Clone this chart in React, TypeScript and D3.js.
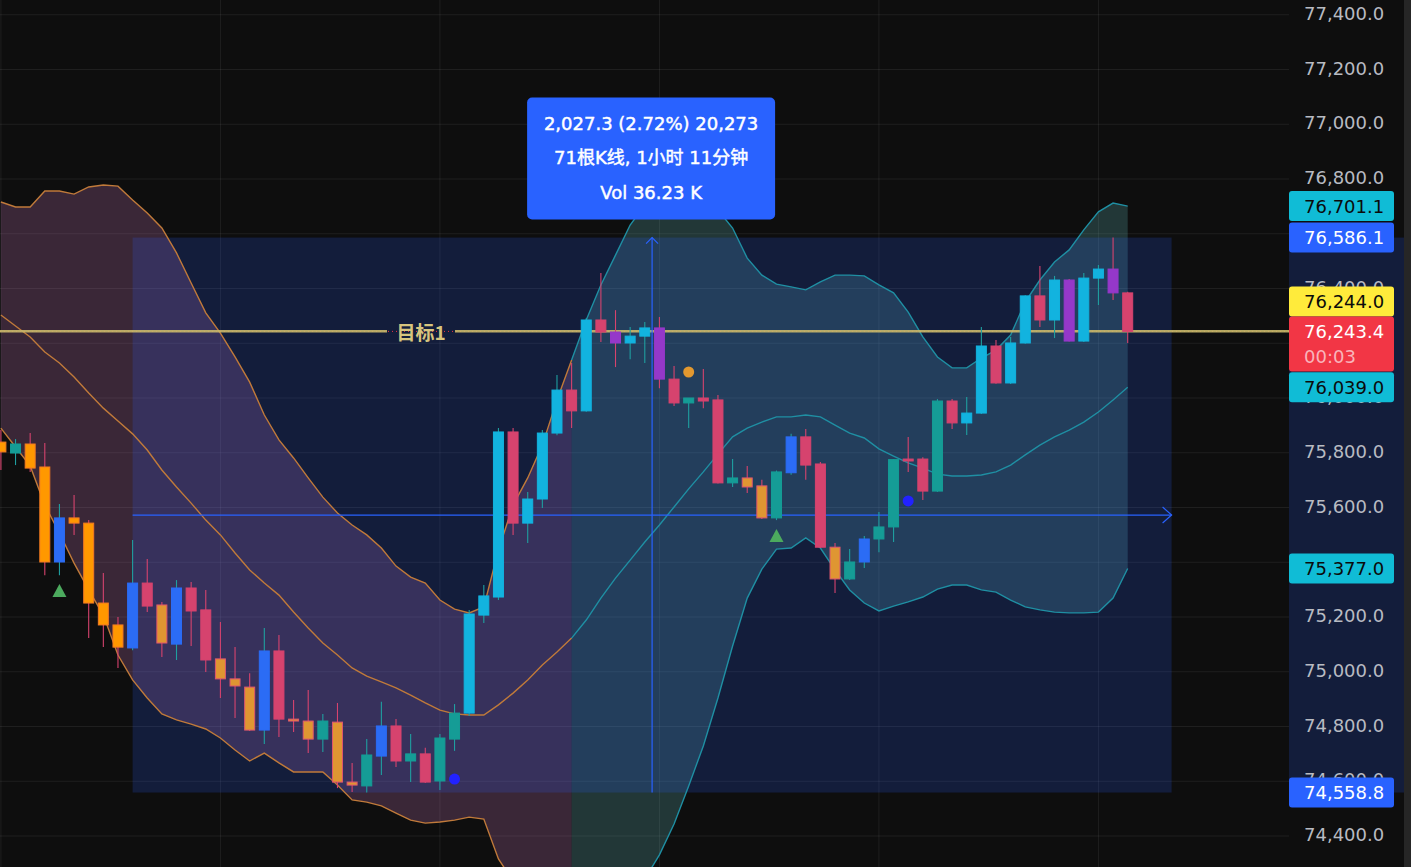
import React from 'react';
import * as d3 from 'd3';

// ---------- DATA ----------
const opens = [75839, 75799, 75832, 75748, 75401, 75562, 75543, 75251, 75171, 75087, 75324, 75244, 75101, 75306, 75226, 75047, 74974, 74944, 74787, 75076, 74827, 74820, 74754, 74816, 74597, 74583, 74692, 74802, 74674, 74700, 74601, 74754, 74849, 75207, 75273, 75876, 75543, 75631, 75872, 76029, 75953, 76285, 76241, 76201, 76226, 76256, 76069, 75982, 76000, 75993, 75690, 75708, 75679, 75562, 75727, 75858, 75759, 75455, 75339, 75401, 75485, 75529, 75777, 75777, 75660, 75989, 75909, 75945, 76190, 76055, 76201, 76373, 76285, 76431, 76208, 76438, 76471, 76384];
const highs = [75883, 75850, 75872, 75836, 75613, 75646, 75554, 75361, 75200, 75481, 75412, 75255, 75335, 75328, 75299, 75182, 75090, 74995, 75160, 75134, 74897, 74933, 74846, 74886, 74667, 74754, 74890, 74827, 74773, 74722, 74773, 74882, 75226, 75317, 75890, 75890, 75657, 75883, 76084, 76128, 76292, 76457, 76321, 76259, 76278, 76296, 76117, 76000, 76106, 76011, 75777, 75752, 75701, 75735, 75869, 75887, 75766, 75470, 75448, 75496, 75584, 75777, 75858, 75784, 75996, 75996, 76004, 76259, 76212, 76223, 76375, 76482, 76446, 76435, 76457, 76486, 76586.1, 76388];
const lows = [75737, 75755, 75730, 75353, 75353, 75500, 75123, 75090, 75014, 75079, 75218, 75054, 75043, 75094, 74999, 74904, 74831, 74784, 74736, 74762, 74780, 74703, 74707, 74575, 74561, 74558.8, 74623, 74652, 74597, 74594, 74568, 74711, 74838, 75178, 75262, 75500, 75470, 75598, 75864, 75890, 75950, 76205, 76113, 76142, 76128, 76036, 75971, 75890, 75963, 75688, 75675, 75653, 75558, 75554, 75720, 75701, 75452, 75288, 75335, 75379, 75437, 75474, 75730, 75627, 75657, 75887, 75865, 75942, 76052, 76051, 76198, 76259, 76219, 76206, 76205, 76340, 76358, 76201];
const closes = [75803, 75832, 75744, 75401, 75562, 75543, 75251, 75171, 75090, 75324, 75240, 75105, 75306, 75222, 75043, 74974, 74948, 74787, 75076, 74827, 74820, 74754, 74820, 74597, 74586, 74696, 74802, 74674, 74700, 74597, 74758, 74849, 75211, 75277, 75876, 75543, 75631, 75872, 76029, 75953, 76285, 76241, 76201, 76226, 76256, 76069, 75982, 76000, 75989, 75690, 75708, 75675, 75562, 75730, 75858, 75755, 75455, 75339, 75401, 75485, 75529, 75775, 75770, 75660, 75989, 75909, 75945, 76190, 76055, 76201, 76373, 76285, 76431, 76208, 76438, 76471, 76384, 76243.4];
// candle colour category: O bright orange, a amber, p pink, b blue, t teal, c cyan, v purple
const kinds = ['O', 't', 'O', 'O', 'b', 'O', 'O', 'O', 'O', 'b', 'p', 'a', 'b', 'p', 'p', 'a', 'a', 'a', 'b', 'p', 'a', 'a', 't', 'a', 'a', 't', 'b', 'p', 't', 'p', 't', 't', 'c', 'c', 'c', 'p', 'c', 'c', 'c', 'p', 'c', 'p', 'v', 'c', 'c', 'v', 'p', 't', 'p', 'p', 't', 'a', 'a', 't', 'b', 'p', 'p', 'a', 't', 'b', 't', 't', 'p', 'p', 't', 'p', 'c', 'c', 'p', 'c', 'c', 'p', 'c', 'v', 'c', 'c', 'v', 'p'];

const bbUpper = [76716, 76698, 76698, 76756, 76756, 76745, 76771, 76778, 76774, 76723, 76676, 76621, 76530, 76420, 76311, 76237, 76150, 76058, 75938, 75847, 75781, 75708, 75638, 75580, 75536, 75500, 75452, 75386, 75346, 75324, 75262, 75229, 75215, 75237, 75445, 75609, 75708, 75828, 75993, 76139, 76285, 76413, 76522, 76632, 76705, 76742, 76760, 76753, 76731, 76687, 76621, 76511, 76449, 76416, 76406, 76395, 76424, 76449, 76449, 76446, 76413, 76384, 76314, 76223, 76150, 76110, 76110, 76146, 76175, 76230, 76351, 76431, 76497, 76541, 76614, 76680, 76712, 76701.1];
const bbMiddle = [76303, 76263, 76223, 76168, 76128, 76077, 76018, 75963, 75916, 75869, 75810, 75737, 75675, 75616, 75554, 75500, 75434, 75372, 75324, 75280, 75218, 75160, 75105, 75061, 75014, 74984, 74963, 74941, 74915, 74886, 74860, 74846, 74842, 74842, 74879, 74922, 74970, 75025, 75072, 75123, 75189, 75269, 75342, 75408, 75474, 75536, 75602, 75668, 75730, 75795, 75858, 75890, 75912, 75931, 75931, 75938, 75931, 75901, 75872, 75854, 75814, 75788, 75763, 75744, 75722, 75715, 75715, 75719, 75730, 75755, 75792, 75828, 75858, 75883, 75912, 75949, 75993, 76039.0];
const bbLower = [75890, 75821, 75752, 75609, 75507, 75397, 75299, 75207, 75061, 74970, 74904, 74846, 74824, 74809, 74791, 74758, 74714, 74674, 74703, 74667, 74634, 74634, 74634, 74586, 74532, 74524, 74510, 74484, 74458, 74447, 74451, 74458, 74469, 74462, 74316, 74236, 74232, 74221, 74152, 74108, 74093, 74126, 74163, 74184, 74243, 74331, 74444, 74583, 74729, 74904, 75094, 75269, 75375, 75448, 75452, 75489, 75452, 75372, 75299, 75251, 75222, 75240, 75255, 75273, 75302, 75317, 75317, 75299, 75291, 75262, 75237, 75226, 75218, 75215, 75215, 75218, 75269, 75377.0];
const bbSplit = 39; // band changes colour at this bar

const buySignals = [{ i: 4, p: 75295 }, { i: 53, p: 75496 }];
const blueDots = [{ i: 31, p: 74608 }, { i: 62, p: 75624 }];
const orangeDots = [{ i: 47, p: 76095 }];

const rangeStart = 9;
const rangeEnd = 80;
const targetPrice = 76244.0;
const targetLabel = '目标1';
const lastTime = '00:03';
const tooltipLine2 = '71根K线, 1小时 11分钟';
const tooltipLine3 = 'Vol 36.23 K';
const yTicks = d3.range(74400, 77401, 200);
const vGridBars = [0, 15, 30, 45, 60, 75];

// ---------- STYLE ----------
const W = 1411, H = 867, PR = 1289;
const BG = '#0e0e0e';
const FILL: Record<string, string> = { O: '#ff9800', a: '#df9632', p: '#d6436e', b: '#2b6cf5', t: '#159c96', c: '#12b3df', v: '#9538c9' };
const STROKE: Record<string, string> = { O: '#f47a22', a: '#e0566f', p: '#d6436e', b: '#2b6cf5', t: '#159c96', c: '#12b3df', v: '#9538c9' };
const UPW = '#1f9fa0', DNW = '#d6436e';

export default function App() {
  const n = closes.length;
  const x = d3.scaleLinear().domain([0, n - 1]).range([0.9, 1127.7]);
  const y = d3.scaleLinear().domain([74286.8, 77453.9]).range([H, 0]);

  const idxA = d3.range(0, bbSplit + 1);
  const idxB = d3.range(bbSplit, n);
  const area = d3.area<number>().x(i => x(i)).y0(i => y(bbLower[i])).y1(i => y(bbUpper[i]));
  const line = (arr: number[]) => d3.line<number>().x(i => x(i)).y(i => y(arr[i]));

  const rHi = d3.max(highs.slice(rangeStart)) as number;
  const rLo = d3.min(lows.slice(rangeStart)) as number;
  const bx0 = x(rangeStart), bx1 = x(rangeEnd);
  const by0 = y(rHi), by1 = y(rLo);
  const bmx = (bx0 + bx1) / 2, bmy = (by0 + by1) / 2;
  const diff = rHi - rLo;
  const fmt1 = d3.format(',.1f');
  const line1 = `${fmt1(diff)} (${(diff / rLo * 100).toFixed(2)}%) ${d3.format(',')(Math.round(diff * 10))}`;

  const last = closes[n - 1];
  const cw = 10;
  const labelH = 30;

  const ty = y(targetPrice);
  const ly = y(last);
  const redTop = ly - labelH / 2;

  const priceLabels = [
    { v: bbUpper[n - 1], bg: '#10bcd6', fg: '#0b0b0b', cy: y(bbUpper[n - 1]) },
    { v: rHi, bg: '#2962ff', fg: '#ffffff', cy: by0 },
    { v: targetPrice, bg: '#ffeb3b', fg: '#0b0b0b', cy: redTop - labelH / 2 },
    { v: bbMiddle[n - 1], bg: '#10bcd6', fg: '#0b0b0b', cy: y(bbMiddle[n - 1]) },
    { v: bbLower[n - 1], bg: '#10bcd6', fg: '#0b0b0b', cy: y(bbLower[n - 1]) },
    { v: rLo, bg: '#2962ff', fg: '#ffffff', cy: by1 },
  ];

  const axisFont = 'DejaVu Sans, sans-serif';
  const tipTop = by0 - 18 - 122;

  return (
    <svg width={W} height={H} style={{ position: 'fixed', left: 0, top: 0, display: 'block', background: BG }}>
      <defs>
        <clipPath id="plot"><rect x={0} y={0} width={PR} height={H} /></clipPath>
      </defs>
      <rect x={0} y={0} width={W} height={H} fill={BG} />
      <g clipPath="url(#plot)">
        {yTicks.map(t => (
          <line key={'h' + t} x1={0} x2={PR} y1={y(t)} y2={y(t)} stroke="rgba(255,255,255,0.07)" />
        ))}
        {vGridBars.map(i => (
          <line key={'v' + i} x1={x(i)} x2={x(i)} y1={0} y2={H} stroke="rgba(255,255,255,0.07)" />
        ))}
        <path d={area(idxA) || ''} fill="rgba(200,120,190,0.24)" />
        <path d={area(idxB) || ''} fill="rgba(100,190,190,0.24)" />
        <rect x={bx0} y={by0} width={bx1 - bx0} height={by1 - by0} fill="rgba(41,98,255,0.19)" />
        {[bbUpper, bbMiddle, bbLower].map((arr, k) => (
          <g key={'bb' + k}>
            <path d={line(arr)(idxA) || ''} fill="none" stroke="#c07a3a" strokeWidth={1.4} />
            <path d={line(arr)(idxB) || ''} fill="none" stroke="#1f8fa3" strokeWidth={1.4} />
          </g>
        ))}
        <line x1={0} x2={PR} y1={ly} y2={ly} stroke="#f23645" strokeWidth={1} strokeDasharray="1 3" />
        <line x1={0} x2={387} y1={ty} y2={ty} stroke="#c9b96b" strokeWidth={2.5} opacity={0.9} />
        <line x1={455} x2={PR} y1={ty} y2={ty} stroke="#c9b96b" strokeWidth={2.5} opacity={0.9} />
        <text x={421} y={ty} textAnchor="middle" dominantBaseline="central" fill="#d8c57e"
          fontFamily="'Noto Sans CJK SC', sans-serif" fontSize={19} fontWeight={700}>{targetLabel}</text>
        {/* range tool */}
        <line x1={bmx} x2={bmx} y1={by0} y2={by1} stroke="#2962ff" strokeWidth={1.2} />
        <polyline points={`${bmx - 6},${by0 + 6} ${bmx},${by0} ${bmx + 6},${by0 + 6}`} fill="none" stroke="#2962ff" strokeWidth={1.2} />
        <line x1={bx0} x2={bx1} y1={bmy} y2={bmy} stroke="#2962ff" strokeWidth={1.2} />
        <polyline points={`${bx1 - 9},${bmy - 8} ${bx1},${bmy} ${bx1 - 9},${bmy + 8}`} fill="none" stroke="#2962ff" strokeWidth={1.2} />
        {/* candles */}
        {closes.map((c, i) => {
          const o = opens[i];
          const up = c >= o;
          const k = kinds[i];
          const yt = y(Math.max(o, c)), yb = y(Math.min(o, c));
          const cx = x(i);
          return (
            <g key={'c' + i}>
              <line x1={cx} x2={cx} y1={y(highs[i])} y2={y(lows[i])} stroke={up ? UPW : DNW} strokeWidth={1.1} />
              <rect x={cx - cw / 2} y={yt} width={cw} height={Math.max(1.5, yb - yt)} fill={FILL[k]} stroke={STROKE[k]} strokeWidth={1} />
            </g>
          );
        })}
        {buySignals.map((s, k) => {
          const cx = x(s.i), cy = y(s.p);
          return <path key={'bs' + k} d={`M${cx},${cy - 7} L${cx + 7},${cy + 6} L${cx - 7},${cy + 6} Z`} fill="#4caa5e" />;
        })}
        {blueDots.map((s, k) => <circle key={'bd' + k} cx={x(s.i)} cy={y(s.p)} r={5.5} fill="#2222ff" />)}
        {orangeDots.map((s, k) => <circle key={'od' + k} cx={x(s.i)} cy={y(s.p)} r={5.5} fill="#e2982f" />)}
      </g>
      {/* tooltip */}
      <g>
        <rect x={bmx - 125} y={tipTop} width={248} height={122} rx={5} fill="#2962ff" />
        <g fontFamily="'DejaVu Sans', 'Noto Sans CJK SC', sans-serif" fontSize={18} fill="#ffffff"
          stroke="#ffffff" strokeWidth={0.45} textAnchor="middle">
          <text x={bmx - 1} y={tipTop + 26} dominantBaseline="central">{line1}</text>
          <text x={bmx - 1} y={tipTop + 60} dominantBaseline="central">{tooltipLine2}</text>
          <text x={bmx - 1} y={tipTop + 95} dominantBaseline="central">{tooltipLine3}</text>
        </g>
      </g>
      {/* price axis */}
      <rect x={PR} y={by0} width={1404 - PR} height={by1 - by0} fill="rgba(41,98,255,0.19)" />
      <rect x={1404} y={0} width={W - 1404} height={H} fill="#262626" />
      {yTicks.map(t => (
        <text key={'t' + t} x={1304} y={y(t) - 1.5} dominantBaseline="central" fill="#b8bbc2"
          fontFamily={axisFont} fontSize={18}>{fmt1(t)}</text>
      ))}
      {priceLabels.map((l, k) => (
        <g key={'pl' + k}>
          <rect x={PR} y={l.cy - labelH / 2} width={105} height={labelH} rx={3} fill={l.bg} />
          <text x={1304} y={l.cy} dominantBaseline="central" fill={l.fg} fontFamily={axisFont} fontSize={18}>{fmt1(l.v)}</text>
        </g>
      ))}
      <g>
        <rect x={PR} y={redTop} width={105} height={55} rx={3} fill="#f23645" />
        <text x={1304} y={ly} dominantBaseline="central" fill="#ffffff" fontFamily={axisFont} fontSize={18}>{fmt1(last)}</text>
        <text x={1304} y={ly + 25} dominantBaseline="central" fill="#f9b4bb" fontFamily={axisFont} fontSize={18}>{lastTime}</text>
      </g>
    </svg>
  );
}
